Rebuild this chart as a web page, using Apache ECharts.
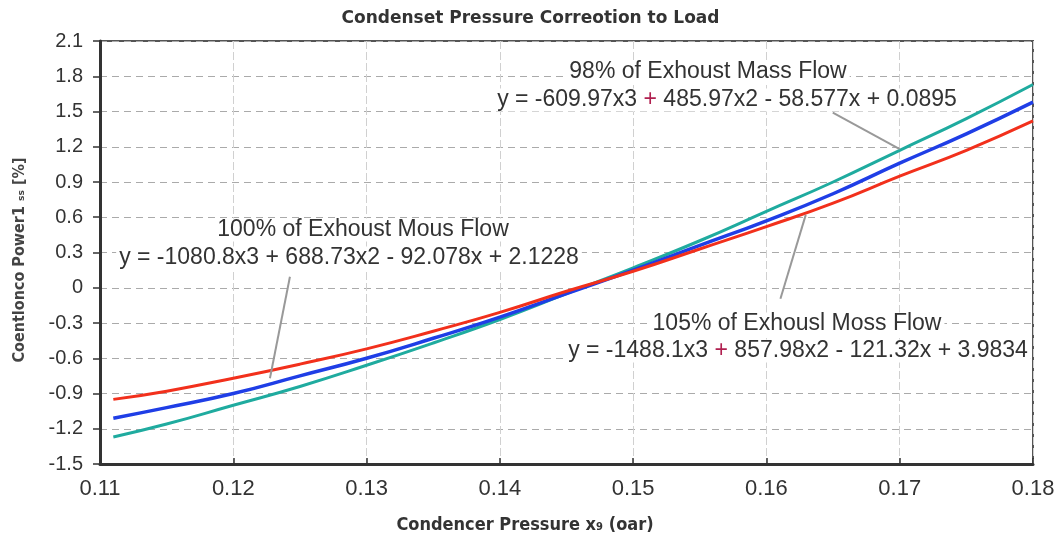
<!DOCTYPE html>
<html>
<head>
<meta charset="utf-8">
<script src="https://cdn.jsdelivr.net/npm/echarts@6/dist/echarts.min.js"></script>
<style>
  html, body { margin: 0; padding: 0; background: #fff; }
  #chart { width: 1061px; height: 543px; }
</style>
</head>
<body>
<div id="chart"></div>
<script>
// x positions (bar)
const pressure = [0.111, 0.115, 0.12, 0.125, 0.13, 0.135, 0.14, 0.145, 0.15, 0.155, 0.16, 0.165, 0.17, 0.175, 0.18]
// 98% exhaust mass flow (teal)
const flow98 = [-1.27, -1.16, -1.0, -0.84, -0.66, -0.47, -0.27, -0.05, 0.17, 0.4, 0.65, 0.9, 1.17, 1.44, 1.73]
// 100% (blue)
const flow100 = [-1.11, -1.02, -0.9, -0.75, -0.6, -0.43, -0.25, -0.05, 0.15, 0.36, 0.57, 0.8, 1.06, 1.31, 1.58]
// 105% (red)
const flow105 = [-0.95, -0.88, -0.77, -0.65, -0.52, -0.37, -0.21, -0.03, 0.14, 0.33, 0.52, 0.72, 0.95, 1.17, 1.42]

const xTicks = [0.11, 0.12, 0.13, 0.14, 0.15, 0.16, 0.17, 0.18]
const yTicks = [-1.5, -1.2, -0.9, -0.6, -0.3, 0, 0.3, 0.6, 0.9, 1.2, 1.5, 1.8, 2.1]

// leader lines [from label, to curve]
const leader98 = [[0.16498, 1.49], [0.17, 1.18]]
const leader100 = [[0.12425, 0.094], [0.12275, -0.77]]
const leader105 = [[0.16105, -0.094], [0.16295, 0.62]]

// {r|+} = the reddish plus sign in the picture
const labels = [
  { text: '98% of Exhoust Mass Flow', x: 708, y: 72 },
  { text: 'y = -609.97x3 {r|+} 485.97x2 - 58.577x + 0.0895', x: 727, y: 100 },
  { text: '100% of Exhoust Mous Flow', x: 363, y: 230 },
  { text: 'y = -1080.8x3 + 688.73x2 - 92.078x + 2.1228', x: 349, y: 258 },
  { text: '105% of Exhousl Moss Flow', x: 797, y: 324 },
  { text: 'y = -1488.1x3 {r|+} 857.98x2 - 121.32x + 3.9834', x: 798, y: 351 }
]

const toPairs = (ys) => pressure.map((x, i) => [x, ys[i]])
const leader = (pts) => [[{ coord: pts[0] }, { coord: pts[1] }]]

const chart = echarts.init(document.getElementById('chart'))

const textGraphic = labels.map((l) => ({
  type: 'text',
  x: l.x,
  y: l.y,
  z: 100,
  style: {
    text: l.text,
    fontFamily: 'Liberation Sans',
    fontSize: 23,
    fill: '#333',
    align: 'center',
    verticalAlign: 'middle',
    backgroundColor: '#fff',
    padding: [0, 3],
    rich: {
      r: { fill: '#b02050', fontSize: 23, fontFamily: 'Liberation Sans' }
    }
  }
}))

// axis names drawn as text so they can sit where the picture has them
textGraphic.push({
  type: 'text',
  x: 20,
  y: 260,
  rotation: Math.PI / 2,
  style: {
    text: 'Coentlonco Power1 \u209b\u209b [%]',
    fontFamily: 'DejaVu Sans Condensed',
    fontSize: 16,
    fontWeight: 'bold',
    fill: '#444',
    align: 'center',
    verticalAlign: 'middle'
  }
})
textGraphic.push({
  type: 'text',
  x: 525,
  y: 525,
  style: {
    text: 'Condencer Pressure x\u2089 (oar)',
    fontFamily: 'DejaVu Sans Condensed',
    fontSize: 18,
    fontWeight: 'bold',
    fill: '#333',
    align: 'center',
    verticalAlign: 'middle'
  }
})

const option = {
  animation: false,
  backgroundColor: '#fff',
  title: {
    text: 'Condenset Pressure Correotion to Load',
    left: 'center',
    top: 5,
    textStyle: {
      fontFamily: 'DejaVu Sans',
      fontSize: 17,
      fontWeight: 'bold',
      color: '#333'
    }
  },
  grid: {
    left: 100,
    right: 28,
    top: 41,
    bottom: 79,
    show: true,
    borderColor: '#555',
    borderWidth: 2
  },
  xAxis: {
    type: 'value',
    min: xTicks[0],
    max: xTicks[xTicks.length - 1],
    interval: 0.01,
    axisLine: { show: true, onZero: false, lineStyle: { color: '#333', width: 3 } },
    axisTick: { show: true, inside: true, length: 6, lineStyle: { color: '#333', width: 1.5 } },
    axisLabel: {
      fontFamily: 'Liberation Sans',
      fontSize: 22,
      color: '#333',
      margin: 14,
      formatter: (v) => v.toFixed(2)
    },
    splitLine: { show: true, lineStyle: { color: '#d0d0d0', width: 1, type: [8, 3] } }
  },
  yAxis: {
    type: 'value',
    min: yTicks[0],
    max: yTicks[yTicks.length - 1],
    interval: 0.3,
    axisLine: { show: true, onZero: false, lineStyle: { color: '#333', width: 3 } },
    axisTick: { show: true, length: 7, lineStyle: { color: '#333', width: 1.5 } },
    axisLabel: {
      fontFamily: 'Liberation Sans',
      fontSize: 20,
      color: '#333',
      margin: 17,
      formatter: (v) => String(parseFloat(v.toFixed(1)))
    },
    splitLine: { show: true, lineStyle: { color: '#aaa', width: 1, type: [7, 5] } }
  },
  graphic: textGraphic,
  series: [
    {
      name: '98%',
      type: 'line',
      data: toPairs(flow98),
      smooth: true,
      showSymbol: false,
      lineStyle: { color: '#1fab9f', width: 3 },
      itemStyle: { color: '#1fab9f' },
      markLine: {
        silent: true,
        symbol: 'none',
        label: { show: false },
        lineStyle: { color: '#999', width: 2, type: 'solid' },
        data: leader(leader98)
      }
    },
    {
      name: '100%',
      type: 'line',
      data: toPairs(flow100),
      smooth: true,
      showSymbol: false,
      lineStyle: { color: '#1f3ee6', width: 3.5 },
      itemStyle: { color: '#1f3ee6' },
      markLine: {
        silent: true,
        symbol: 'none',
        label: { show: false },
        lineStyle: { color: '#999', width: 2, type: 'solid' },
        data: leader(leader100)
      }
    },
    {
      name: '105%',
      type: 'line',
      data: toPairs(flow105),
      smooth: true,
      showSymbol: false,
      lineStyle: { color: '#f2301c', width: 3 },
      itemStyle: { color: '#f2301c' },
      markLine: {
        silent: true,
        symbol: 'none',
        label: { show: false },
        lineStyle: { color: '#999', width: 2, type: 'solid' },
        data: leader(leader105)
      }
    }
  ]
}

chart.setOption(option)

window.addEventListener('resize', function () {
  chart.resize()
})
</script>
</body>
</html>
